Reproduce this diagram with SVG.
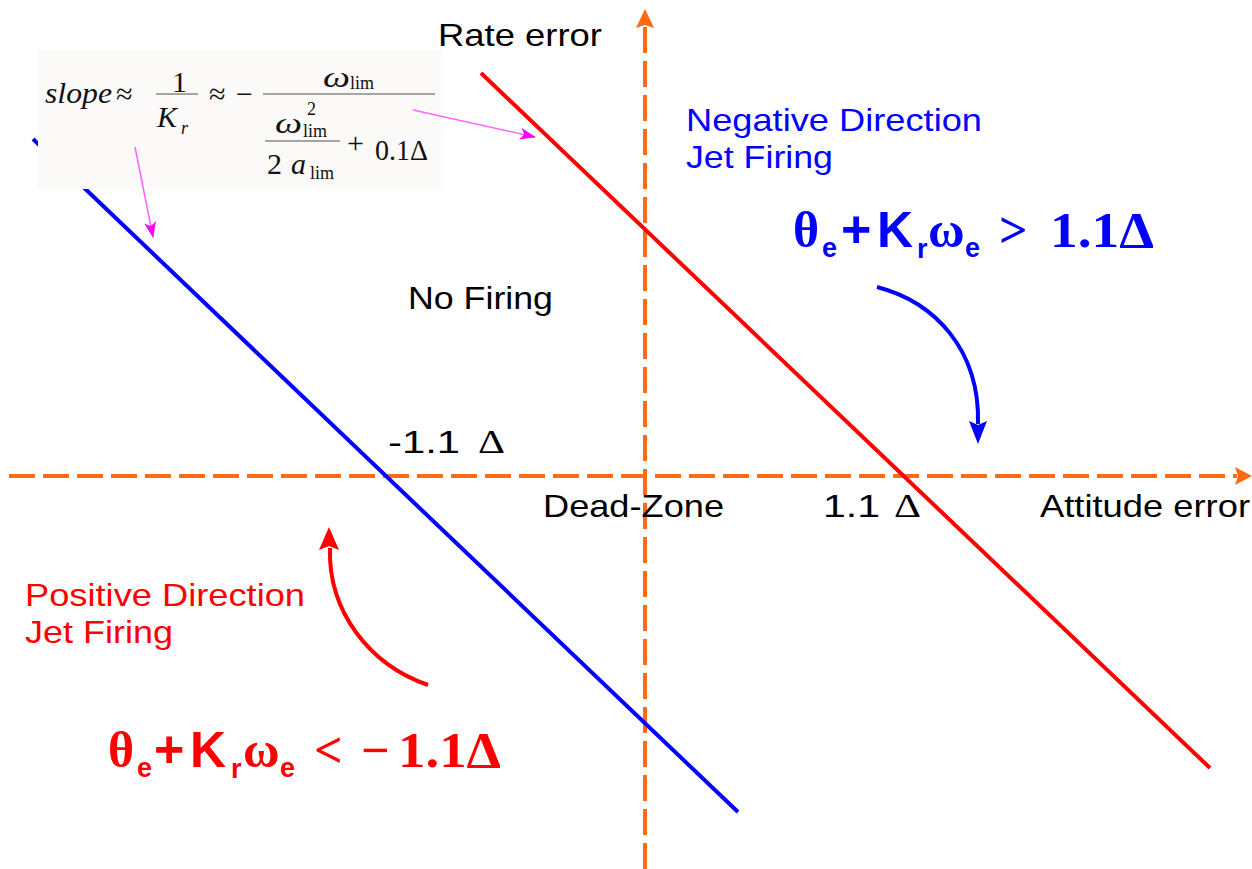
<svg xmlns="http://www.w3.org/2000/svg" width="1252" height="869" viewBox="0 0 1252 869">
<style>
.lbl{font-family:"Liberation Sans",Arial,sans-serif;font-size:32px}
.ser{font-family:"Liberation Serif","Times New Roman",serif}
.eq{font-family:"Liberation Serif","Times New Roman",serif;font-size:30px;fill:#111}
.it{font-style:italic}
.sub{font-size:18px}
.bs{font-family:"Liberation Sans",Arial,sans-serif;font-weight:bold}
.bt{font-family:"Liberation Serif","Times New Roman",serif;font-weight:bold}
.axis{stroke:#ff6a13;stroke-width:4;stroke-dasharray:26 8;fill:none}
.pink{stroke:#ff66ff;stroke-width:1.6;fill:none}
.bar{stroke:#888;stroke-width:1.5}
</style>
<defs>
<marker id="mpink" viewBox="0 0 16 12" refX="15" refY="6" markerWidth="16" markerHeight="12" markerUnits="userSpaceOnUse" orient="auto"><path d="M0,0 L16,6 L0,12 L4,6 Z" fill="#ff00ff"/></marker>
</defs>
<rect width="1252" height="869" fill="#ffffff"/>

<g id="connectors">
<line class="axis" x1="9" y1="476" x2="1237" y2="476"/>
<polygon points="1252,476 1235,467 1238,476 1235,485" fill="#ff6a13"/>
<line class="axis" x1="645" y1="869" x2="645" y2="27"/>
<polygon points="645,9 636,28 645,25 654,28" fill="#ff6a13"/>
<line id="blue-line" x1="33" y1="139" x2="738" y2="812" stroke="#0000ff" stroke-width="4"/>
<line id="red-line" x1="481" y1="73" x2="1210" y2="768" stroke="#ff0000" stroke-width="4"/>
<path d="M877,287 C935,302 980,350 978,424" stroke="#0000ff" stroke-width="4" fill="none"/>
<polygon points="978,444 969,421 978,425 987,421" fill="#0000ff"/>
<path d="M428,685 C370,665 328,612 330,548" stroke="#ff0000" stroke-width="4" fill="none"/>
<polygon points="329,527 319,550 329,546 339,550" fill="#ff0000"/>
</g>

<g id="formula-box">
<rect x="38" y="50" width="405" height="139" fill="#fbfaf8"/>
<text class="eq it" x="45" y="103" textLength="67" lengthAdjust="spacingAndGlyphs">slope</text>
<text class="eq" x="116" y="104">≈</text>
<text class="eq" x="172" y="92" font-size="29">1</text>
<line class="bar" x1="156" y1="94" x2="198" y2="94"/>
<text class="eq it" x="157" y="127" font-size="32">K</text>
<text class="eq it sub" x="181" y="134">r</text>
<text class="eq" x="209" y="104">≈</text>
<text class="eq" x="236" y="104">−</text>
<line class="bar" x1="263" y1="94" x2="435" y2="94"/>
<text class="eq it" x="323" y="87" font-size="32" textLength="27" lengthAdjust="spacingAndGlyphs">ω</text>
<text class="eq sub" x="350" y="89">lim</text>
<text class="eq it" x="275" y="133" font-size="32" textLength="27" lengthAdjust="spacingAndGlyphs">ω</text>
<text class="eq sub" x="307" y="115">2</text>
<text class="eq sub" x="303" y="137">lim</text>
<line class="bar" x1="265" y1="141" x2="340" y2="141"/>
<text class="eq" x="267" y="174" font-size="32">2</text>
<text class="eq it" x="291" y="174" font-size="32">a</text>
<text class="eq sub" x="310" y="179">lim</text>
<text class="eq" x="347" y="153">+</text>
<text class="eq" x="375" y="160" font-size="31" textLength="53" lengthAdjust="spacingAndGlyphs">0.1Δ</text>
</g>

<g id="pointers">
<line class="pink" x1="413" y1="110" x2="535" y2="137" marker-end="url(#mpink)"/>
<line class="pink" x1="135" y1="147" x2="153" y2="237" marker-end="url(#mpink)"/>
</g>

<g id="rate-error"><text class="lbl" x="438" y="46" textLength="164" lengthAdjust="spacingAndGlyphs">Rate error</text></g>
<g id="attitude-error"><text class="lbl" x="1040" y="517" textLength="210" lengthAdjust="spacingAndGlyphs">Attitude error</text></g>
<g id="negative-firing" fill="#0000ff">
<text class="lbl" x="686" y="131" textLength="296" lengthAdjust="spacingAndGlyphs">Negative Direction</text>
<text class="lbl" x="686" y="168" textLength="147" lengthAdjust="spacingAndGlyphs">Jet Firing</text>
</g>
<g id="positive-firing" fill="#ff0000">
<text class="lbl" x="25" y="606" textLength="280" lengthAdjust="spacingAndGlyphs">Positive Direction</text>
<text class="lbl" x="25" y="643" textLength="148" lengthAdjust="spacingAndGlyphs">Jet Firing</text>
</g>
<g id="no-firing"><text class="lbl" x="408" y="309" textLength="145" lengthAdjust="spacingAndGlyphs">No Firing</text></g>
<g id="dead-zone"><text class="lbl" x="543" y="517" textLength="181" lengthAdjust="spacingAndGlyphs">Dead-Zone</text></g>
<g id="neg-threshold"><text class="lbl" x="388" y="453" textLength="72" lengthAdjust="spacingAndGlyphs">-1.1</text><text class="ser" x="478" y="453" font-size="34" textLength="27" lengthAdjust="spacingAndGlyphs">Δ</text></g>
<g id="pos-threshold"><text class="lbl" x="823" y="517" textLength="57" lengthAdjust="spacingAndGlyphs">1.1</text><text class="ser" x="894" y="517" font-size="34" textLength="27" lengthAdjust="spacingAndGlyphs">Δ</text></g>

<g id="neg-condition" fill="#0000ff">
<text class="bt" x="793" y="247" font-size="50">θ</text>
<text class="bs" x="822" y="257" font-size="27">e</text>
<text class="bs" x="841" y="247" font-size="52">+</text>
<text class="bs" x="877" y="247" font-size="50">K</text>
<text class="bs" x="917" y="258" font-size="27">r</text>
<text class="bt" x="928" y="247" font-size="50">ω</text>
<text class="bs" x="965" y="257" font-size="27">e</text>
<text class="bt" x="999" y="247" font-size="50">&gt;</text>
<text class="bt" x="1050" y="247" font-size="50" textLength="104" lengthAdjust="spacingAndGlyphs">1.1Δ</text>
</g>
<g id="pos-condition" fill="#ff0000">
<text class="bt" x="108" y="767" font-size="50">θ</text>
<text class="bs" x="137" y="777" font-size="27">e</text>
<text class="bs" x="154" y="767" font-size="52">+</text>
<text class="bs" x="190" y="767" font-size="50">K</text>
<text class="bs" x="231" y="778" font-size="27">r</text>
<text class="bt" x="243" y="767" font-size="50">ω</text>
<text class="bs" x="280" y="777" font-size="27">e</text>
<text class="bt" x="314" y="767" font-size="50">&lt;</text>
<text class="bt" x="361" y="767" font-size="50">−</text>
<text class="bt" x="398" y="767" font-size="50" textLength="103" lengthAdjust="spacingAndGlyphs">1.1Δ</text>
</g>
</svg>
